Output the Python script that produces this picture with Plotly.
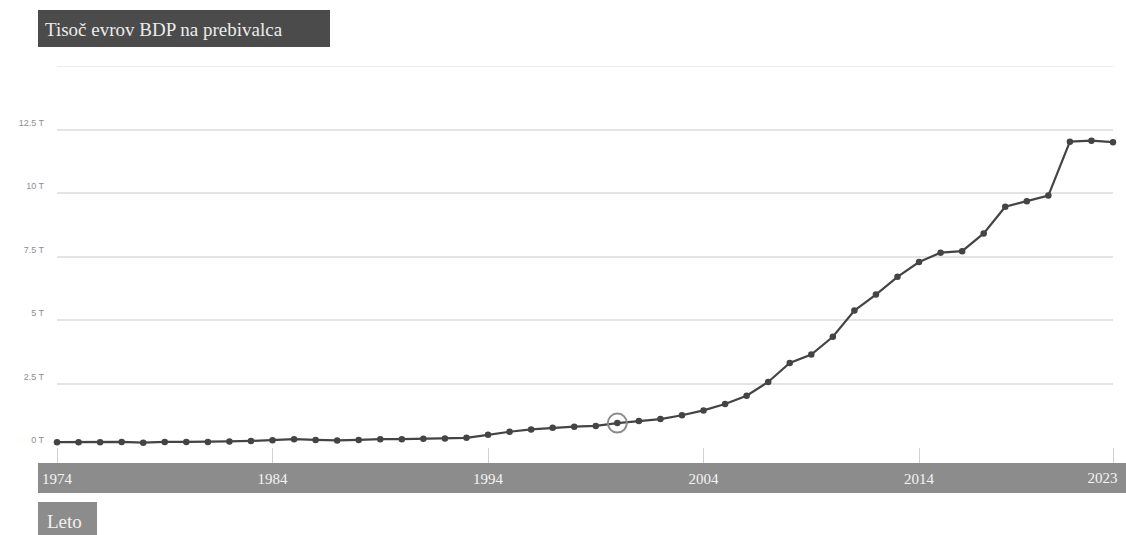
import plotly.graph_objects as go

# GDP per capita, thousand euros
years = list(range(1974, 2024))
gdp_per_capita = [
    0.19, 0.19, 0.19, 0.20, 0.17, 0.20, 0.20, 0.20, 0.22, 0.24,
    0.27, 0.31, 0.28, 0.26, 0.28, 0.31, 0.31, 0.32, 0.33, 0.36,
    0.48, 0.60, 0.69, 0.76, 0.80, 0.83, 0.94, 1.02, 1.10, 1.25,
    1.44, 1.69, 2.02, 2.56, 3.31, 3.64, 4.34, 5.37, 6.00, 6.70,
    7.28, 7.65, 7.71, 8.41, 9.46, 9.68, 9.90, 12.02, 12.06, 12.00,
]
highlight_year = 2000

x_tick_years = [1974, 1984, 1994, 2004, 2014, 2023]
y_tick_values = [0, 2.5, 5, 7.5, 10, 12.5, 15]
y_tick_labels = ["0 T", "2.5 T", "5 T", "7.5 T", "10 T", "12.5 T", ""]

title_text = "Tisoč evrov BDP na prebivalca"
x_title_text = "Leto"

W, H = 1126, 535
M_L, M_R, M_T, M_B = 57, 13, 66, 88
PW, PH = W - M_L - M_R, H - M_T - M_B


def px_x(p):
    return (p - M_L) / PW


def px_y(p):
    return (H - M_B - p) / PH


SERIF = "Liberation Serif, Times New Roman, serif"
x_range = [years[0], years[-1]]

fig = go.Figure()

fig.add_trace(go.Scatter(
    x=years, y=gdp_per_capita,
    mode="lines+markers",
    line=dict(color="#444444", width=2.2),
    marker=dict(color="#444444", size=6.5),
    cliponaxis=False,
    showlegend=False,
    hoverinfo="x+y",
))

hi_idx = years.index(highlight_year)
fig.add_trace(go.Scatter(
    x=[years[hi_idx]], y=[gdp_per_capita[hi_idx]],
    mode="markers",
    marker=dict(symbol="circle-open", size=19,
                line=dict(color="#8a8a8a", width=2), color="#8a8a8a"),
    cliponaxis=False,
    showlegend=False,
    hoverinfo="skip",
))

# invisible anchor so the overlay axis for the last year label is drawn
fig.add_trace(go.Scatter(
    x=[years[-1]], y=[gdp_per_capita[-1]],
    xaxis="x2", mode="markers",
    marker=dict(opacity=0),
    showlegend=False, hoverinfo="skip",
))

shapes = [
    # title box
    dict(type="rect", xref="paper", yref="paper",
         x0=px_x(38), x1=px_x(330), y0=px_y(47), y1=px_y(10),
         fillcolor="#4b4b4b", line=dict(width=0), layer="below"),
    # band behind year labels
    dict(type="rect", xref="paper", yref="paper",
         x0=px_x(38), x1=px_x(1130), y0=px_y(493), y1=px_y(463),
         fillcolor="#8c8c8c", line=dict(width=0), layer="below"),
    # axis title box
    dict(type="rect", xref="paper", yref="paper",
         x0=px_x(38), x1=px_x(97), y0=px_y(540), y1=px_y(502),
         fillcolor="#8c8c8c", line=dict(width=0), layer="below"),
    # gridline at the top of the value range
    dict(type="line", xref="paper", yref="y",
         x0=0, x1=1, y0=y_tick_values[-1], y1=y_tick_values[-1],
         line=dict(color="#e4e4e4", width=1.5), layer="below"),
]

annotations = [
    dict(text=title_text, xref="paper", yref="paper",
         x=px_x(43), y=px_y(29), xanchor="left", yanchor="middle",
         showarrow=False, font=dict(family=SERIF, size=19, color="#ececec")),
    dict(text=x_title_text, xref="paper", yref="paper",
         x=px_x(45), y=px_y(521), xanchor="left", yanchor="middle",
         showarrow=False, font=dict(family=SERIF, size=19, color="#f2f2f2")),
]

year_axis_style = dict(
    range=x_range,
    automargin=False,
    showgrid=False, zeroline=False, showline=False,
    ticks="outside", ticklen=15, tickwidth=1, tickcolor="#d0d0d0",
    tickfont=dict(family=SERIF, size=15, color="#f4f4f4"),
)

fig.update_layout(
    width=W, height=H,
    margin=dict(l=M_L, r=M_R, t=M_T, b=M_B, autoexpand=False),
    paper_bgcolor="white", plot_bgcolor="white",
    shapes=shapes, annotations=annotations,
    showlegend=False,
    xaxis=dict(
        tickvals=x_tick_years[:-1],
        ticktext=[str(y) for y in x_tick_years[:-1]],
        ticklabelstandoff=3,
        **year_axis_style,
    ),
    # last year label sits right-aligned so it stays inside the band
    xaxis2=dict(
        overlaying="x", side="bottom",
        tickvals=x_tick_years[-1:],
        ticktext=[str(y) for y in x_tick_years[-1:]],
        ticklabelposition="outside left", ticklabelshift=5,
        ticklabelstandoff=17,
        **year_axis_style,
    ),
)

fig.update_yaxes(
    range=[0, 15],
    tickvals=y_tick_values,
    ticktext=y_tick_labels,
    automargin=False,
    showgrid=True, gridcolor="#e4e4e4", gridwidth=1.5,
    zeroline=False, showline=False,
    ticks="", ticklabelstandoff=12, ticklabelshift=-7,
    tickfont=dict(family="Liberation Sans Narrow, Liberation Sans, Arial, sans-serif",
                  size=9, color="#8f8f8f"),
)

fig.write_html("out.html")
